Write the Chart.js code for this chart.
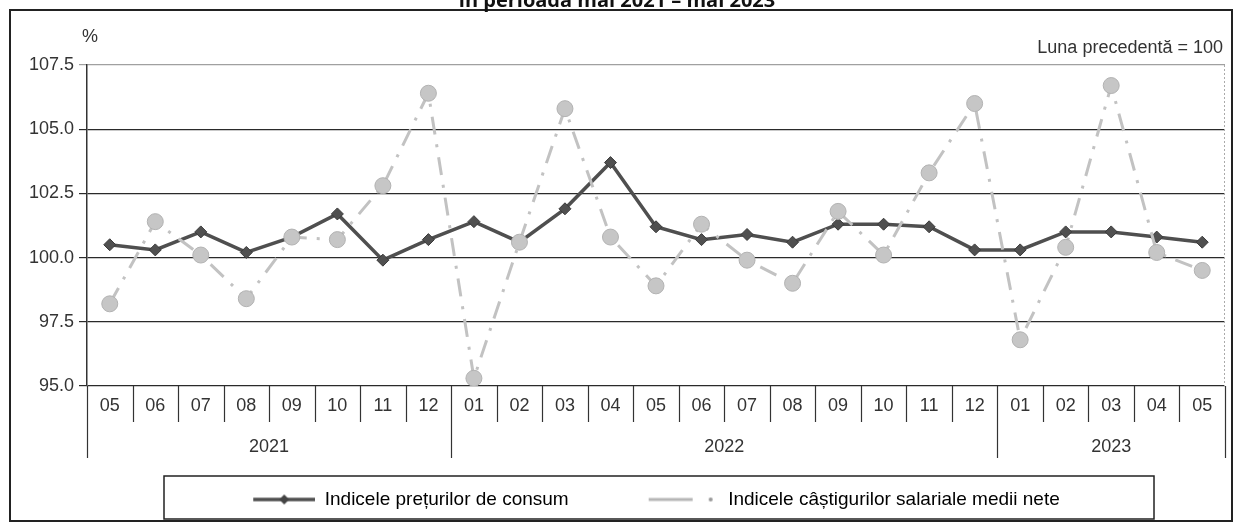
<!DOCTYPE html>
<html>
<head>
<meta charset="utf-8">
<script src="https://cdn.jsdelivr.net/npm/chart.js@4.4.0/dist/chart.umd.min.js"></script>
<style>
body { margin: 0; background: #fff; }
canvas { display: block; }
</style>
</head>
<body>
<canvas id="grafic" width="1234" height="527"></canvas>
<script>
var luni = ['05','06','07','08','09','10','11','12','01','02','03','04','05','06','07','08','09','10','11','12','01','02','03','04','05'];
var ani = ['2021', '2022', '2023'];
var luniPeAn = [8, 12, 5];
var ipc = [100.5, 100.3, 101.0, 100.2, 100.8, 101.7, 99.9, 100.7, 101.4, 100.6, 101.9, 103.7, 101.2,
           100.7, 100.9, 100.6, 101.3, 101.3, 101.2, 100.3, 100.3, 101.0, 101.0, 100.8, 100.6];
var castiguri = [98.2, 101.4, 100.1, 98.4, 100.8, 100.7, 102.8, 106.4, 95.3, 100.6, 105.8, 100.8, 98.9,
                 101.3, 99.9, 99.0, 101.8, 100.1, 103.3, 106.0, 96.8, 100.4, 106.7, 100.2, 99.5];
var etichetaIpc = 'Indicele prețurilor de consum';
var etichetaCastiguri = 'Indicele câștigurilor salariale medii nete';
var titlu = 'în perioada mai 2021 – mai 2023';
var notaBaza = 'Luna precedentă = 100';

var culoareIpc = '#4f4f4f';
var culoareCastiguri = '#c2c2c2';
var font = '"Liberation Sans", Arial, sans-serif';

// mici desene pentru legenda (linie + marcaj)
function iconLegenda(tip) {
    var c = document.createElement('canvas');
    c.width = 136; c.height = 20;
    var g = c.getContext('2d');
    if (tip === 'ipc') {
        g.strokeStyle = culoareIpc; g.lineWidth = 3.5;
        g.beginPath(); g.moveTo(74, 10); g.lineTo(136, 10); g.stroke();
        g.fillStyle = '#444';
        g.beginPath(); g.moveTo(105, 5); g.lineTo(110, 10); g.lineTo(105, 15); g.lineTo(100, 10); g.closePath(); g.fill();
    } else {
        g.strokeStyle = '#b5b5b5'; g.lineWidth = 3;
        g.beginPath(); g.moveTo(66, 10); g.lineTo(110, 10); g.stroke();
        g.fillStyle = '#999';
        g.beginPath(); g.arc(128, 10, 2, 0, Math.PI * 2); g.fill();
    }
    return c;
}

var decor = {
    id: 'decor',
    afterDraw: function (chart) {
        var ctx = chart.ctx;
        var a = chart.chartArea;
        var xs = chart.scales.x;
        ctx.save();

        // chenar exterior
        ctx.strokeStyle = '#222'; ctx.lineWidth = 2;
        ctx.strokeRect(10, 10, 1222, 511);

        // titlu (taiat sus)
        ctx.fillStyle = '#111';
        ctx.font = 'bold 20px "Open Sans", sans-serif';
        ctx.textAlign = 'center'; ctx.textBaseline = 'alphabetic';
        ctx.fillText(titlu, 617, 7);

        ctx.font = '18px ' + font;
        ctx.fillStyle = '#333';
        ctx.textBaseline = 'middle';
        ctx.fillText('%', 90, 37);
        ctx.textAlign = 'right';
        ctx.fillText(notaBaza, 1223, 48);

        // margine dreapta punctata
        ctx.strokeStyle = '#aaa'; ctx.lineWidth = 1; ctx.setLineDash([2, 2]);
        ctx.beginPath(); ctx.moveTo(a.right - 0.5, a.top); ctx.lineTo(a.right - 0.5, a.bottom); ctx.stroke();
        ctx.setLineDash([]);

        // separatoare luni / ani
        var w = xs.getPixelForValue(1) - xs.getPixelForValue(0);
        var limite = [0];
        luniPeAn.reduce(function (s, n) { limite.push(s + n); return s + n; }, 0);
        ctx.strokeStyle = '#333'; ctx.lineWidth = 1.2;
        for (var i = 0; i <= luni.length; i++) {
            var bx = Math.round(xs.getPixelForValue(0) + (i - 0.5) * w) + 0.5;
            var lung = limite.indexOf(i) >= 0;
            ctx.beginPath(); ctx.moveTo(bx, a.bottom); ctx.lineTo(bx, a.bottom + (lung ? 72 : 36)); ctx.stroke();
        }
        ctx.textAlign = 'center'; ctx.fillStyle = '#333';
        ctx.font = '18px ' + font;
        for (var j = 0; j < ani.length; j++) {
            var x0 = xs.getPixelForValue(limite[j]);
            var x1 = xs.getPixelForValue(limite[j + 1] - 1);
            ctx.fillText(ani[j], (x0 + x1) / 2, a.bottom + 61);
        }

        // chenar legenda
        var lg = chart.legend;
        ctx.strokeStyle = '#222'; ctx.lineWidth = 1.5;
        ctx.strokeRect(164, lg.top, 990, 43);
        ctx.restore();
    }
};

var ctx = document.getElementById('grafic').getContext('2d');

var myChart = new Chart(ctx, {
    type: 'line',
    data: {
        labels: luni,
        datasets: [{
            label: etichetaIpc,
            data: ipc,
            order: 2,
            borderColor: culoareIpc,
            borderWidth: 3.5,
            pointStyle: 'rectRot',
            pointRadius: 6,
            pointBackgroundColor: '#505050',
            pointBorderColor: '#3a3a3a',
            pointBorderWidth: 1,
            tension: 0
        }, {
            label: etichetaCastiguri,
            data: castiguri,
            order: 1,
            borderColor: culoareCastiguri,
            borderWidth: 3,
            borderDash: [18, 10, 3, 10],
            pointStyle: 'circle',
            pointRadius: 8,
            pointBackgroundColor: '#c6c6c6',
            pointBorderColor: '#b2b2b2',
            pointBorderWidth: 1,
            tension: 0
        }]
    },
    options: {
        responsive: false,
        animation: false,
        layout: { padding: { top: 65, left: 14, right: 9, bottom: 8 } },
        scales: {
            x: {
                offset: true,
                grid: { display: true, drawOnChartArea: false, drawTicks: false, color: 'rgba(0,0,0,0)' },
                border: { display: false },
                ticks: { color: '#333', font: { size: 18, family: font }, padding: 9, maxRotation: 0, autoSkip: false },
                afterFit: function (s) { s.height = 90; }
            },
            y: {
                min: 95,
                max: 107.5,
                ticks: {
                    stepSize: 2.5,
                    color: '#333',
                    padding: 5,
                    font: { size: 18, family: font },
                    callback: function (v) { return v.toFixed(1); }
                },
                grid: {
                    tickLength: 8,
                    lineWidth: 1.2,
                    color: function (c) { return c.tick && c.tick.value === 107.5 ? '#a0a0a0' : '#2a2a2a'; }
                },
                border: { color: '#333', width: 1.5 },
                afterFit: function (s) { s.width = 73; }
            }
        },
        plugins: {
            tooltip: { enabled: false },
            legend: {
                position: 'bottom',
                labels: {
                    usePointStyle: true,
                    pointStyleWidth: 136,
                    padding: 14,
                    color: '#333',
                    font: { size: 19, family: font },
                    generateLabels: function () {
                        return [
                            { text: etichetaIpc, pointStyle: iconLegenda('ipc'), fillStyle: culoareIpc, strokeStyle: culoareIpc, lineWidth: 1, hidden: false, datasetIndex: 0 },
                            { text: etichetaCastiguri, pointStyle: iconLegenda('castiguri'), fillStyle: culoareCastiguri, strokeStyle: culoareCastiguri, lineWidth: 1, hidden: false, datasetIndex: 1 }
                        ];
                    }
                }
            }
        }
    },
    plugins: [decor]
});
</script>
</body>
</html>
